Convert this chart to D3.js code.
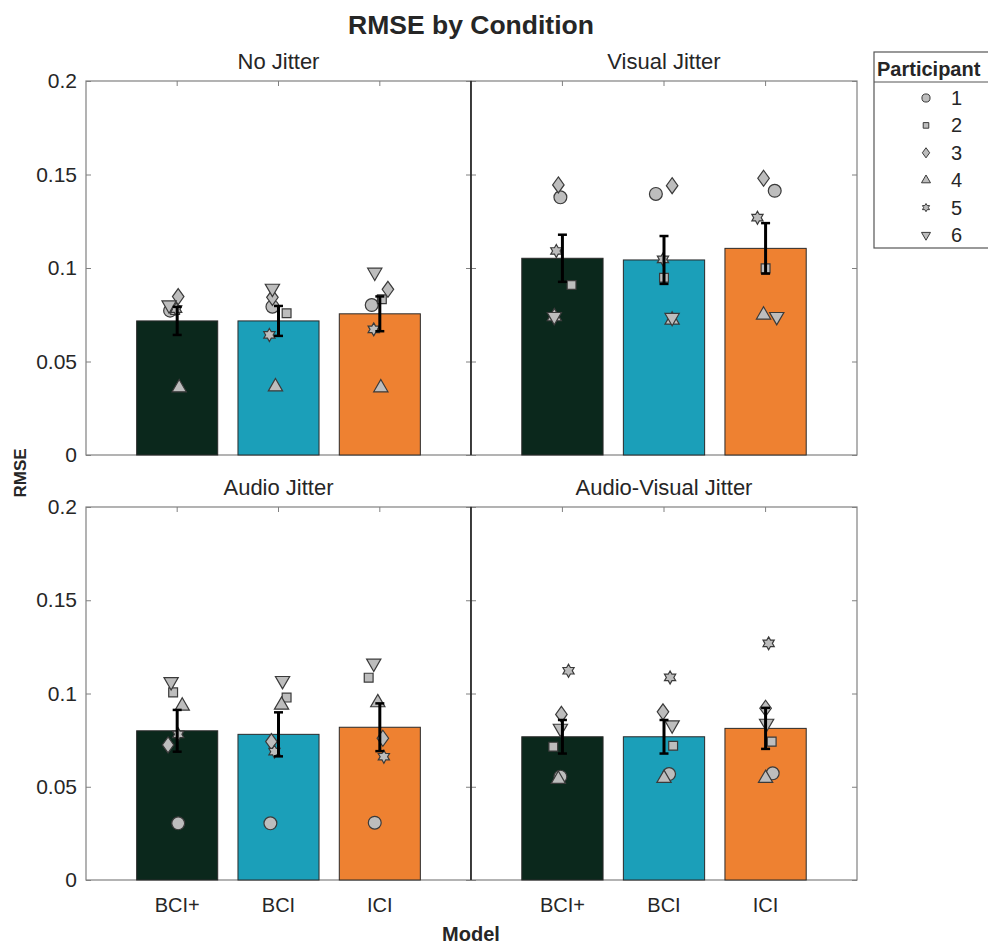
<!DOCTYPE html>
<html>
<head>
<meta charset="utf-8">
<script src="https://cdn.jsdelivr.net/npm/d3@7"></script>
<style>
  body { margin: 0; background: #fff; }
  text { font-family: "Liberation Sans", Arial, sans-serif; fill: #262626; }
</style>
</head>
<body>
<div id="chart"></div>
<script>
// ---- data ----
const conditions = ["No Jitter", "Visual Jitter", "Audio Jitter", "Audio-Visual Jitter"];
const models = ["BCI+", "BCI", "ICI"];
const participants = ["1", "2", "3", "4", "5", "6"];
const yTicks = [0, 0.05, 0.1, 0.15, 0.2];

// mean RMSE per condition (rows) and model (cols)
const meanRMSE = [
  [0.0717, 0.0717, 0.0755],
  [0.1052, 0.1043, 0.1105],
  [0.0800, 0.0781, 0.0819],
  [0.0768, 0.0768, 0.0813]
];
// standard error per condition and model
const semRMSE = [
  [0.0075, 0.0080, 0.0093],
  [0.0126, 0.0128, 0.0135],
  [0.0112, 0.0118, 0.0128],
  [0.0090, 0.0090, 0.0110]
];

// per participant RMSE, [model][participant 1..6]
const noJitterPts = [
  [0.0772, 0.0775, 0.0847, 0.0360, 0.0780, 0.0802],
  [0.0793, 0.0758, 0.0843, 0.0365, 0.0642, 0.0891],
  [0.0802, 0.0833, 0.0886, 0.0360, 0.0672, 0.0977]
];
const visualJitterPts = [
  [0.1378, 0.0909, 0.1444, 0.0740, 0.1091, 0.0740],
  [0.1396, 0.0948, 0.1440, 0.0722, 0.1046, 0.0735],
  [0.1413, 0.0998, 0.1480, 0.0749, 0.1269, 0.0740]
];
const audioJitterPts = [
  [0.0304, 0.1006, 0.0724, 0.0933, 0.0781, 0.1063],
  [0.0304, 0.0978, 0.0742, 0.0938, 0.0688, 0.1069],
  [0.0307, 0.1085, 0.0760, 0.0951, 0.0661, 0.1162]
];
const avJitterPts = [
  [0.0554, 0.0715, 0.0888, 0.0540, 0.1122, 0.0813],
  [0.0568, 0.0720, 0.0902, 0.0545, 0.1086, 0.0831],
  [0.0572, 0.0742, 0.0921, 0.0545, 0.1269, 0.0840]
];

// horizontal jitter of each point, in category steps
const noJitterOff = [
  [-0.07, -0.02, 0.01, 0.02, -0.01, -0.08],
  [-0.06, 0.08, -0.06, -0.03, -0.09, -0.06],
  [-0.08, 0.02, 0.08, 0.01, -0.06, -0.05]
];
const visualJitterOff = [
  [-0.02, 0.09, -0.04, -0.08, -0.06, -0.08],
  [-0.08, 0.00, 0.08, 0.08, -0.01, 0.08],
  [0.09, 0.00, -0.02, -0.02, -0.08, 0.11]
];
const audioJitterOff = [
  [0.01, -0.04, -0.09, 0.05, 0.01, -0.06],
  [-0.08, 0.08, -0.07, 0.03, -0.04, 0.04],
  [-0.05, -0.11, 0.03, -0.02, 0.04, -0.06]
];
const avJitterOff = [
  [-0.02, -0.09, -0.01, -0.04, 0.06, -0.02],
  [0.05, 0.09, -0.01, 0.00, 0.06, 0.08],
  [0.07, 0.06, 0.00, 0.00, 0.03, 0.01]
];

const pointsByCond = [noJitterPts, visualJitterPts, audioJitterPts, avJitterPts];
const offsetsByCond = [noJitterOff, visualJitterOff, audioJitterOff, avJitterOff];

// ---- layout ----
const width = 988, height = 944;
const cols = [[86, 471], [471, 857]];
const rows = [[81, 455], [507, 880]];
const barColors = ["#0b281c", "#1b9fb9", "#ee8131"];
const markerFill = "#bdbdbd", markerStroke = "#3a3a3a";

// MATLAB-like hexagram and diamond markers
const hexagram = {
  draw(ctx, size) {
    const R = Math.sqrt(size), r = R / Math.sqrt(3);
    for (let k = 0; k < 12; k++) {
      const a = -Math.PI / 2 + k * Math.PI / 6;
      const rad = k % 2 === 0 ? R : r;
      if (k === 0) ctx.moveTo(rad * Math.cos(a), rad * Math.sin(a));
      else ctx.lineTo(rad * Math.cos(a), rad * Math.sin(a));
    }
    ctx.closePath();
  }
};
const diamond = {
  draw(ctx, size) {
    const h = Math.sqrt(size), w = h * 0.72;
    ctx.moveTo(0, -h);
    ctx.lineTo(w, 0);
    ctx.lineTo(0, h);
    ctx.lineTo(-w, 0);
    ctx.closePath();
  }
};
const shapes = [
  { type: d3.symbolCircle, size: 130, rot: 0 },
  { type: d3.symbolSquare, size: 78, rot: 0 },
  { type: diamond, size: 64, rot: 0 },
  { type: d3.symbolTriangle, size: 88, rot: 0 },
  { type: hexagram, size: 42, rot: 0 },
  { type: d3.symbolTriangle, size: 88, rot: 180 }
];

const svg = d3.select("#chart").append("svg")
  .attr("width", width)
  .attr("height", height);

conditions.forEach((cond, c) => {
  const [x0, x1] = cols[c % 2];
  const [y0, y1] = rows[Math.floor(c / 2)];
  const g = svg.append("g");

  const x = d3.scaleBand().domain(models).range([x0, x1])
    .paddingInner(0.2).paddingOuter(0.5);
  const y = d3.scaleLinear().domain([0, 0.2]).range([y1, y0]);

  g.append("rect")
    .attr("x", x0).attr("y", y0)
    .attr("width", x1 - x0).attr("height", y1 - y0)
    .attr("fill", "#fff")
    .attr("stroke", "#808080").attr("stroke-width", 1.2);

  // axes with inward ticks
  const yAxis = d3.axisLeft(y).tickValues(yTicks).tickSizeInner(-5).tickSizeOuter(0)
    .tickPadding(9)
    .tickFormat(c % 2 === 0 ? d3.format("~g") : "");
  const xAxis = d3.axisBottom(x).tickSizeInner(-5).tickSizeOuter(0).tickPadding(18)
    .tickFormat(c >= 2 ? d => d : "");
  g.append("g").attr("class", "yax").attr("transform", `translate(${x0},0)`).call(yAxis);
  g.append("g").attr("class", "xax").attr("transform", `translate(0,${y1})`).call(xAxis);
  g.append("g").attr("transform", `translate(${x1},0)`)
    .call(d3.axisRight(y).tickValues(yTicks).tickSizeInner(-5).tickSizeOuter(0).tickFormat(""));
  g.append("g").attr("transform", `translate(0,${y0})`)
    .call(d3.axisTop(x).tickSizeInner(-5).tickSizeOuter(0).tickFormat(""));
  g.selectAll(".domain").remove();
  g.selectAll(".tick line").attr("stroke", "#808080");
  g.selectAll(".yax .tick text").style("font-size", "21px").attr("fill", "#262626");
  g.selectAll(".xax .tick text").style("font-size", "20px").attr("fill", "#262626");

  // bars
  g.selectAll(".bar")
    .data(models)
    .enter()
    .append("rect")
    .attr("class", "bar")
    .attr("x", d => x(d))
    .attr("y", (d, i) => y(meanRMSE[c][i]))
    .attr("width", x.bandwidth())
    .attr("height", (d, i) => y(0) - y(meanRMSE[c][i]))
    .attr("fill", (d, i) => barColors[i])
    .attr("stroke", "#2a2a2a")
    .attr("stroke-width", 1);

  // participant markers
  const pts = [];
  models.forEach((m, i) => {
    participants.forEach((p, j) => {
      pts.push({ m, i, j, v: pointsByCond[c][i][j], off: offsetsByCond[c][i][j] });
    });
  });
  g.selectAll(".pt")
    .data(pts)
    .enter()
    .append("path")
    .attr("class", "pt")
    .attr("d", d => d3.symbol().type(shapes[d.j].type).size(shapes[d.j].size)())
    .attr("transform", d => `translate(${x(d.m) + x.bandwidth() / 2 + d.off * x.step()},${y(d.v)}) rotate(${shapes[d.j].rot})`)
    .attr("fill", markerFill)
    .attr("stroke", markerStroke)
    .attr("stroke-width", 1.2);

  // error bars
  const eb = g.selectAll(".err")
    .data(models)
    .enter()
    .append("g")
    .attr("class", "err");
  const cx = d => x(d) + x.bandwidth() / 2;
  eb.append("line")
    .attr("x1", cx).attr("x2", cx)
    .attr("y1", (d, i) => y(meanRMSE[c][i] - semRMSE[c][i]))
    .attr("y2", (d, i) => y(meanRMSE[c][i] + semRMSE[c][i]))
    .attr("stroke", "#000").attr("stroke-width", 3);
  [-1, 1].forEach(s => {
    eb.append("line")
      .attr("x1", d => cx(d) - 4.5).attr("x2", d => cx(d) + 4.5)
      .attr("y1", (d, i) => y(meanRMSE[c][i] + s * semRMSE[c][i]))
      .attr("y2", (d, i) => y(meanRMSE[c][i] + s * semRMSE[c][i]))
      .attr("stroke", "#000").attr("stroke-width", 2.5);
  });

  // panel title
  svg.append("text")
    .attr("x", (x0 + x1) / 2)
    .attr("y", y0 - 12)
    .attr("text-anchor", "middle")
    .style("font-size", "22px")
    .attr("fill", "#000")
    .text(cond);
});

// shared dividing line between columns
rows.forEach(([y0, y1]) => {
  svg.append("line")
    .attr("x1", cols[1][0]).attr("x2", cols[1][0])
    .attr("y1", y0).attr("y2", y1)
    .attr("stroke", "#1a1a1a").attr("stroke-width", 1.5);
});

// titles
svg.append("text")
  .attr("x", 471).attr("y", 34)
  .attr("text-anchor", "middle")
  .style("font-size", "26.5px").style("font-weight", "bold")
  .attr("fill", "#1a1a1a")
  .text("RMSE by Condition");

svg.append("text")
  .attr("transform", "translate(26,473) rotate(-90)")
  .attr("text-anchor", "middle")
  .style("font-size", "17px").style("font-weight", "bold")
  .attr("fill", "#1a1a1a")
  .text("RMSE");

svg.append("text")
  .attr("x", 471).attr("y", 941)
  .attr("text-anchor", "middle")
  .style("font-size", "20px").style("font-weight", "bold")
  .attr("fill", "#1a1a1a")
  .text("Model");

// legend
const lg = svg.append("g");
lg.append("rect")
  .attr("x", 874).attr("y", 52)
  .attr("width", 130).attr("height", 196)
  .attr("fill", "#fff")
  .attr("stroke", "#555").attr("stroke-width", 1.2);
lg.append("line")
  .attr("x1", 874).attr("x2", 988)
  .attr("y1", 82).attr("y2", 82)
  .attr("stroke", "#555").attr("stroke-width", 1);
lg.append("text")
  .attr("x", 877).attr("y", 76)
  .style("font-size", "20px").style("font-weight", "bold")
  .attr("fill", "#000")
  .text("Participant");
const legY = d3.scalePoint().domain(participants).range([98, 235]);
participants.forEach((p, j) => {
  lg.append("path")
    .attr("d", d3.symbol().type(shapes[j].type).size(shapes[j].size * 0.4)())
    .attr("transform", `translate(926,${legY(p)}) rotate(${shapes[j].rot})`)
    .attr("fill", markerFill)
    .attr("stroke", markerStroke)
    .attr("stroke-width", 1);
  lg.append("text")
    .attr("x", 951).attr("y", legY(p))
    .attr("dy", "0.35em")
    .style("font-size", "20px")
    .attr("fill", "#000")
    .text(p);
});
</script>
</body>
</html>
